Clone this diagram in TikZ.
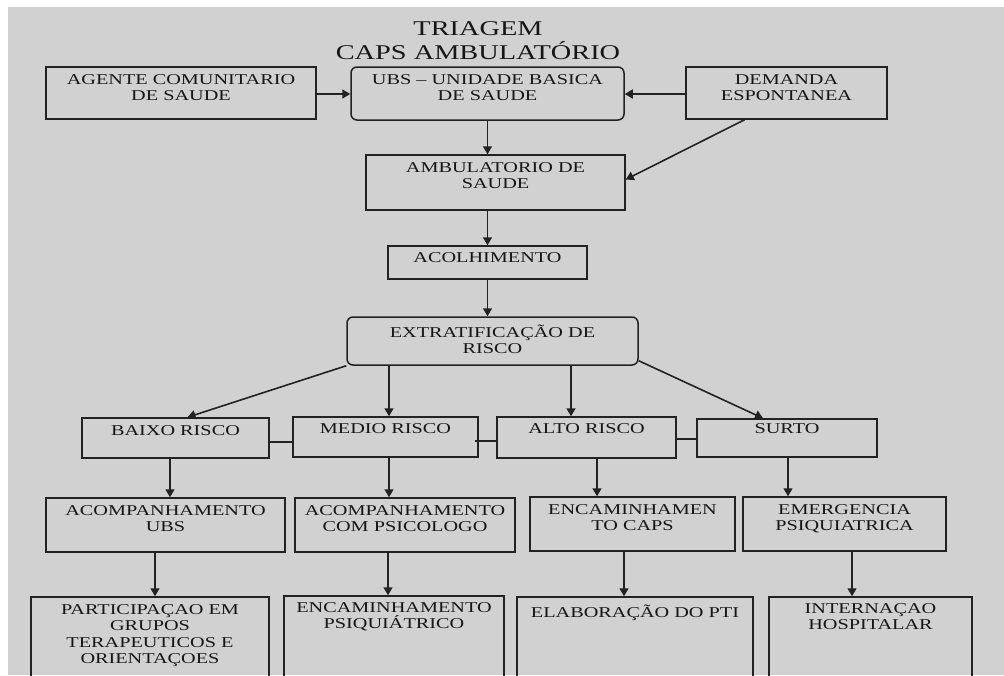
\documentclass[tikz,border=0pt]{standalone}
\usepackage{fontspec}
\usetikzlibrary{arrows.meta}
\newfontfamily\caixafont{Liberation Serif}[FakeStretch=1.35]
\newcommand\rotfont{\caixafont\fontsize{15}{16.5}\selectfont}
\newcommand\titfont{\caixafont\fontsize{21}{24}\selectfont}
\definecolor{fundo}{RGB}{209,209,209}
\definecolor{traco}{RGB}{34,34,34}
\definecolor{letra}{RGB}{22,22,22}
\tikzset{
	caixa/.style  = {draw = traco, line width = 1.5pt, inner sep = 0pt},
	redonda/.style = {caixa, rounded corners = 6pt},
	rotulo/.style = {anchor = north, align = center, inner sep = 0pt, yshift = -8pt, font = \rotfont, text = letra},
	seta/.style   = {draw = traco, line width = 1.6pt, -{Triangle[width = 9pt, length = 8pt]}},
	liga/.style   = {draw = traco, line width = 1.4pt}
}
\begin{document}
\begin{tikzpicture}[x = 1pt, y = -1pt]
	% page and background
	\clip (0, 0) rectangle (1004, 675);
	\fill[white] (0, 0) rectangle (1004, 675);
	\fill[fundo] (8, 7) rectangle (1004, 675);
	% title
	\node[anchor = north, align = center, inner sep = 0pt, font = \titfont, text = letra] (titulo) at (478, 21) {TRIAGEM\\CAPS AMBULATÓRIO};
	% first row
	\node[caixa, minimum width = 270pt, minimum height = 52pt, label = {[rotulo]north:AGENTE COMUNITARIO\\DE SAUDE}] (agente) at (181, 93) {};
	\node[redonda, minimum width = 273pt, minimum height = 53pt, label = {[rotulo]north:UBS – UNIDADE BASICA\\DE SAUDE}] (ubs) at (487.5, 93.5) {};
	\node[caixa, minimum width = 201pt, minimum height = 52pt, label = {[rotulo]north:DEMANDA\\ESPONTANEA}] (demanda) at (786.5, 93) {};
	% middle column
	\node[caixa, minimum width = 259pt, minimum height = 55pt, label = {[rotulo]north:AMBULATORIO DE\\SAUDE}] (ambul) at (495.5, 182.5) {};
	\node[caixa, minimum width = 199pt, minimum height = 33pt, label = {[rotulo, yshift = 1pt]north:ACOLHIMENTO}] (acolh) at (487.5, 262.5) {};
	\node[redonda, minimum width = 291pt, minimum height = 48pt, label = {[rotulo]north:EXTRATIFICAÇÃO DE\\RISCO}] (extrat) at (492.5, 341) {};
	% risk levels
	\node[caixa, minimum width = 187pt, minimum height = 40pt, label = {[rotulo]north:BAIXO RISCO}] (baixo) at (175.5, 438) {};
	\node[caixa, minimum width = 185pt, minimum height = 40pt, label = {[rotulo, yshift = 1pt]north:MEDIO RISCO}] (medio) at (385.5, 437) {};
	\node[caixa, minimum width = 179pt, minimum height = 41pt, label = {[rotulo, yshift = 1pt]north:ALTO RISCO}] (alto) at (586.5, 437.5) {};
	\node[caixa, minimum width = 180pt, minimum height = 38pt, label = {[rotulo, yshift = 3pt]north:SURTO}] (surto) at (787, 438) {};
	% follow-up
	\node[caixa, minimum width = 239pt, minimum height = 54pt, label = {[rotulo]north:ACOMPANHAMENTO\\UBS}] (acompubs) at (165.5, 525) {};
	\node[caixa, minimum width = 220pt, minimum height = 54pt, label = {[rotulo]north:ACOMPANHAMENTO\\COM PSICOLOGO}] (acomppsi) at (405, 525) {};
	\node[caixa, minimum width = 205pt, minimum height = 54pt, label = {[rotulo]north:ENCAMINHAMEN\\TO CAPS}] (encaps) at (632.5, 524) {};
	\node[caixa, minimum width = 203pt, minimum height = 54pt, label = {[rotulo]north:EMERGENCIA\\PSIQUIATRICA}] (emerg) at (844.5, 524) {};
	% last row (cut by the page)
	\node[caixa, minimum width = 238pt, minimum height = 103pt, label = {[rotulo]north:PARTICIPAÇAO EM\\GRUPOS\\TERAPEUTICOS E\\ORIENTAÇOES}] (particip) at (150, 648.5) {};
	\node[caixa, minimum width = 220pt, minimum height = 104pt, label = {[rotulo, yshift = 1pt]north:ENCAMINHAMENTO\\PSIQUIÁTRICO}] (encpsiq) at (394, 648) {};
	\node[caixa, minimum width = 236pt, minimum height = 103pt, label = {[rotulo]north:ELABORAÇÃO DO PTI}] (elabor) at (635, 648.5) {};
	\node[caixa, minimum width = 203pt, minimum height = 103pt, label = {[rotulo, yshift = 1pt]north:INTERNAÇAO\\HOSPITALAR}] (intern) at (870.5, 648.5) {};
	% arrows at the top
	\draw[seta] (agente.east |- 0, 94) -- (ubs.west |- 0, 94);
	\draw[seta] (demanda.west |- 0, 94) -- (ubs.east |- 0, 94);
	\draw[seta] (ubs.south) -- (ubs.south |- ambul.north);
	\draw[seta] ([xshift = -42pt]demanda.south) -- ([yshift = 3pt]ambul.east);
	\draw[seta] (acolh.north |- ambul.south) -- (acolh.north);
	\draw[seta] (acolh.south) -- (acolh.south |- extrat.north);
	% arrows to the risk levels
	\draw[seta] (extrat.south west) -- ([xshift = 12pt]baixo.north);
	\draw[seta] (extrat.south -| 389, 0) -- (medio.north -| 389, 0);
	\draw[seta] (extrat.south -| 571, 0) -- (alto.north -| 571, 0);
	\draw[seta] ([yshift = 5pt]extrat.south east) -- ([xshift = -24pt]surto.north);
	% lines between the levels
	\draw[liga] (baixo.east |- 0, 442) -- (medio.west |- 0, 442);
	\draw[liga] ([xshift = -4pt]medio.east |- 0, 441) -- (alto.west |- 0, 441);
	\draw[liga] (alto.east |- 0, 439) -- (surto.west |- 0, 439);
	% arrows down
	\draw[seta] (baixo.south -| 170, 0) -- (acompubs.north -| 170, 0);
	\draw[seta] (medio.south -| 389, 0) -- (acomppsi.north -| 389, 0);
	\draw[seta] (alto.south -| 597, 0) -- (encaps.north -| 597, 0);
	\draw[seta] (surto.south -| 788, 0) -- (emerg.north -| 788, 0);
	\draw[seta] (acompubs.south -| 155, 0) -- (particip.north -| 155, 0);
	\draw[seta] (acomppsi.south -| 388, 0) -- (encpsiq.north -| 388, 0);
	\draw[seta] (encaps.south -| 624, 0) -- (elabor.north -| 624, 0);
	\draw[seta] (emerg.south -| 852, 0) -- (intern.north -| 852, 0);
\end{tikzpicture}
\end{document}
